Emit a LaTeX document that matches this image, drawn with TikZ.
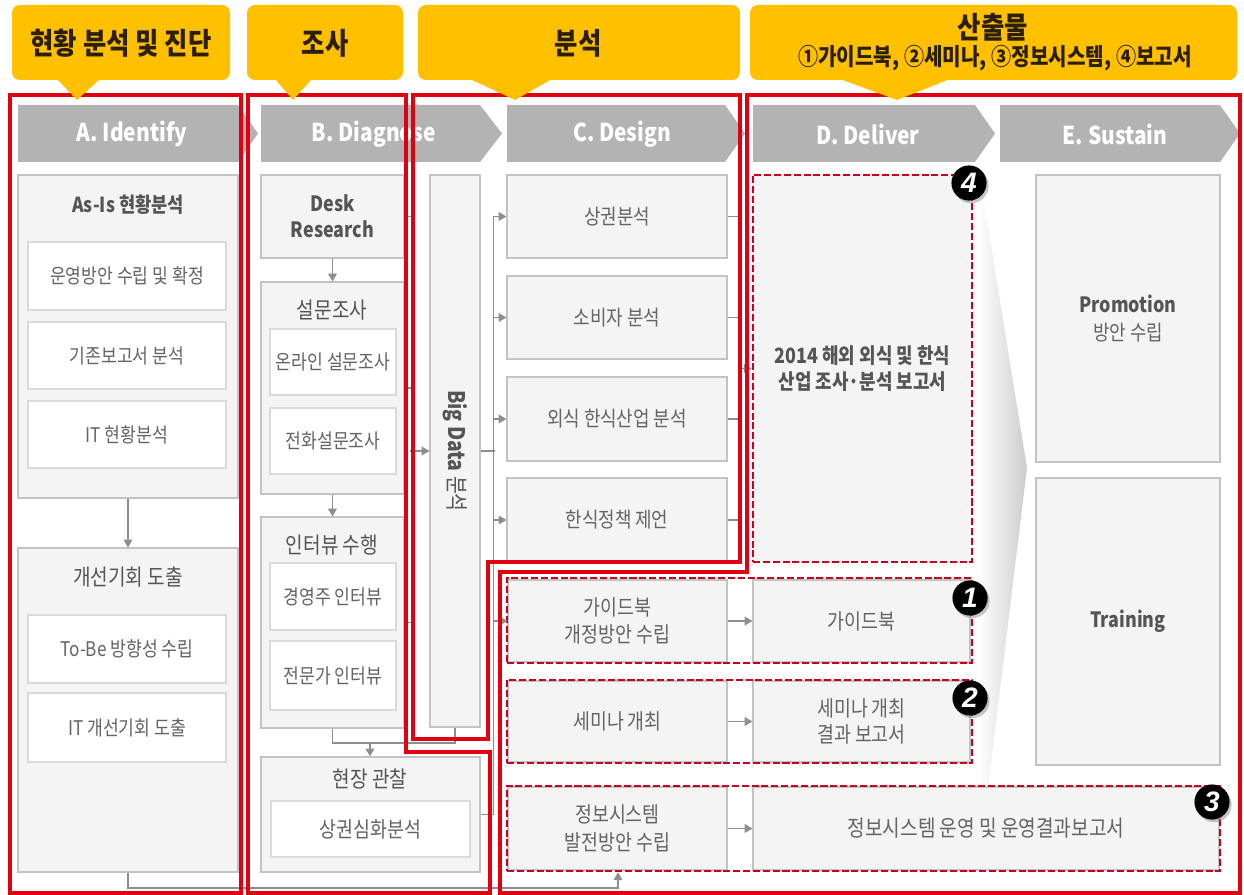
\documentclass[tikz,border=0pt]{standalone}
\usepackage{fontspec}
\setmainfont{Noto Sans CJK KR}[FakeStretch=0.85]
\newfontfamily\badgefont{Liberation Sans}
\usetikzlibrary{arrows.meta,fit,shadows,calc}
\definecolor{hdr}{HTML}{FFC000}
\definecolor{hdrtxt}{HTML}{2B1F05}
\definecolor{chev}{HTML}{B3B3B3}
\definecolor{boxfill}{HTML}{F4F4F4}
\definecolor{boxline}{HTML}{C3C3C3}
\definecolor{wline}{HTML}{DADADA}
\definecolor{txtc}{HTML}{646464}
\definecolor{ttlc}{HTML}{555555}
\definecolor{connc}{HTML}{8E8E8E}
\definecolor{redc}{HTML}{E1000F}
\definecolor{dredc}{HTML}{C8001E}
\begin{document}
\begin{tikzpicture}[x=0.02cm,y=-0.02cm,
  callout/.style={fill=hdr, rounded corners=4.5pt, inner sep=0pt},
  hdrfont/.style={font=\fontsize{17}{19}\selectfont\bfseries, text=hdrtxt},
  chevtxt/.style={text=white, font=\fontsize{14}{16}\selectfont\bfseries},
  gbox/.style={draw=boxline, fill=boxfill, line width=0.6pt, inner sep=0pt},
  wbox/.style={gbox, draw=wline, fill=white},
  tx/.style={text=txtc, align=center, font=\fontsize{12}{15.5}\selectfont},
  wtx/.style={tx, font=\fontsize{11.5}{14}\selectfont},
  ttl/.style={text=ttlc, font=\fontsize{12.8}{15}\selectfont, align=center},
  bttl/.style={text=ttlc, align=center, font=\fontsize{11.8}{15}\selectfont\bfseries},
  line/.style={draw=connc, line width=0.7pt},
  arr/.style={line, -{Triangle[length=4.5pt,width=5pt]}},
  redframe/.style={draw=redc, line width=1.9pt},
  dframe/.style={draw=dredc, line width=1.4pt, dash pattern=on 4pt off 1.6pt, inner sep=0pt},
  badge/.style={circle, fill=black, minimum size=20pt, inner sep=0pt, text=white, font=\badgefont\bfseries\itshape\fontsize{16}{16}\selectfont, drop shadow={shadow xshift=1.2pt, shadow yshift=-1.5pt, opacity=0.45}},
]
\useasboundingbox[fill=white] (0,0) rectangle (1244,895);

% ---------- chevrons ----------
\fill[chev] (18,105) -- (238,105) -- (258,133.5) -- (238,162) -- (18,162) -- cycle;
\fill[chev] (261,105) -- (480,105) -- (502,133.5) -- (480,162) -- (261,162) -- cycle;
\fill[chev] (507,105) -- (725,105) -- (745,133.5) -- (725,162) -- (507,162) -- cycle;
\fill[chev] (753,105) -- (975,105) -- (995,133.5) -- (975,162) -- (753,162) -- cycle;
\fill[chev] (1000,105) -- (1220,105) -- (1240,133.5) -- (1220,162) -- (1000,162) -- cycle;
\node[chevtxt] (chA) at (132,134) {A. Identify};
\node[chevtxt] (chB) at (374,134) {B. Diagnose};
\node[chevtxt] (chC) at (622,134) {C. Design};
\node[chevtxt] (chD) at (868,134) {D. Deliver};
\node[chevtxt] (chE) at (1115,134) {E. Sustain};

% ---------- E shading arrow ----------
\shade[left color=white, right color=gray!40] (978,165) -- (1027,468) -- (978,870) -- cycle;

% ---------- column A ----------
\node[gbox, fit={(18,175)(238,498)}] (asis) {};
\node[bttl] (asisT) at (128,205) {As-Is 현황분석};
\node[wbox, fit={(28,242)(226,310)}, label={[wtx]center:{운영방안 수립 및 확정}}] (a1) {};
\node[wbox, fit={(28,322)(226,389)}, label={[wtx]center:{기존보고서 분석}}] (a2) {};
\node[wbox, fit={(28,401)(226,468)}, label={[wtx]center:{IT 현황분석}}] (a3) {};
\node[gbox, fit={(18,548)(238,872)}] (gae) {};
\node[ttl] (gaeT) at (128,577) {개선기회 도출};
\node[wbox, fit={(28,615)(226,683)}, label={[wtx]center:{To-Be 방향성 수립}}] (a4) {};
\node[wbox, fit={(28,693)(226,762)}, label={[wtx]center:{IT 개선기회 도출}}] (a5) {};

% ---------- column B ----------
\node[gbox, fit={(261,175)(404,258)}, label={[bttl, font=\fontsize{12}{15}\selectfont\bfseries]center:{Desk\\Research}}] (desk) {};
\node[gbox, fit={(261,282)(404,494)}] (survey) {};
\node[ttl] (surveyT) at (332,310) {설문조사};
\node[wbox, fit={(270,329)(396,395)}, label={[wtx]center:{온라인 설문조사}}] (b1) {};
\node[wbox, fit={(270,408)(396,474)}, label={[wtx]center:{전화설문조사}}] (b2) {};
\node[gbox, fit={(261,517)(404,728)}] (intv) {};
\node[ttl] (intvT) at (332,545) {인터뷰 수행};
\node[wbox, fit={(270,563)(396,630)}, label={[wtx]center:{경영주 인터뷰}}] (b3) {};
\node[wbox, fit={(270,641)(396,710)}, label={[wtx]center:{전문가 인터뷰}}] (b4) {};
\node[gbox, fit={(261,757)(480,872)}] (field) {};
\node[ttl] (fieldT) at (370,779) {현장 관찰};
\node[wbox, fit={(271,801)(470,857)}, label={[wtx, font=\fontsize{12.3}{15}\selectfont]center:{상권심화분석}}] (b5) {};
\node[gbox, fit={(430,175)(480,727)}] (bigdata) {};
\node[ttl, rotate=-90, font=\fontsize{13}{15}\selectfont] (bdT) at (bigdata.center) {\textbf{Big Data} 분석};

% ---------- column C ----------
\node[gbox, fit={(507,175)(727,258)}, label={[tx]center:{상권분석}}] (c1) {};
\node[gbox, fit={(507,276)(727,359)}, label={[tx]center:{소비자 분석}}] (c2) {};
\node[gbox, fit={(507,377)(727,461)}, label={[tx]center:{외식 한식산업 분석}}] (c3) {};
\node[gbox, fit={(507,478)(727,562)}, label={[tx]center:{한식정책 제언}}] (c4) {};

% ---------- column D rows ----------
\node[gbox, dframe, fit={(753,175)(972,562)}, label={[bttl, font=\fontsize{12}{15}\selectfont\bfseries]center:{2014 해외 외식 및 한식\\산업 조사·분석 보고서}}] (rep) {};
\node[gbox, fit={(508,580)(727,662)}, label={[tx, font=\fontsize{12.3}{15.5}\selectfont]center:{가이드북\\개정방안 수립}}] (r1a) {};
\node[gbox, fit={(753,580)(970,662)}, label={[tx, font=\fontsize{12.3}{15.5}\selectfont]center:{가이드북}}] (r1b) {};
\node[gbox, fit={(508,681)(727,762)}, label={[tx, font=\fontsize{12.3}{15.5}\selectfont]center:{세미나 개최}}] (r2a) {};
\node[gbox, fit={(753,681)(970,762)}, label={[tx, font=\fontsize{12.3}{15}\selectfont]center:{세미나 개최\\결과 보고서}}] (r2b) {};
\node[gbox, fit={(508,787)(727,870)}, label={[tx, font=\fontsize{12.3}{15.5}\selectfont]center:{정보시스템\\발전방안 수립}}] (r3a) {};
\node[gbox, fit={(753,787)(1219,870)}, label={[tx, font=\fontsize{12.8}{15.5}\selectfont]center:{정보시스템 운영 및 운영결과보고서}}] (r3b) {};
\node[dframe, fit={(507,578)(972,663)}] (f1) {};
\node[dframe, fit={(507,680)(972,763)}] (f2) {};
\node[dframe, fit={(507,786)(1220,871)}] (f3) {};

% ---------- column E ----------
\node[gbox, fit={(1036,175)(1220,462)}, label={[tx]center:{\textbf{\color{ttlc}Promotion}\\방안 수립}}] (promo) {};
\node[gbox, fit={(1036,478)(1220,765)}, label={[bttl, font=\fontsize{12}{15}\selectfont\bfseries]center:{Training}}] (train) {};

% ---------- connectors ----------
\draw[arr] (asis.south) -- (gae.north);
\coordinate (abot) at (618,888);
\draw[arr] (gae.south) |- (abot) -- (abot |- f3.south);

\draw[arr] (desk.south) -- (survey.north);
\draw[arr] (survey.south) -- (intv.north);
\coordinate (j1) at (370,743);
\draw[line] (intv.south) |- (bigdata.south |- j1) -- (bigdata.south);
\draw[arr] (j1) -- (j1 |- field.north);

\draw[line] (desk.east) -- ++(7,0) |- (intv.east);
\draw[line] (survey.east) -- ++(7,0);
\draw[arr] ($(bigdata.west)+(-19,0)$) -- (bigdata.west);

\draw[line] (bigdata.east) -- ++(14,0);
\draw[line] ($(c1.west)+(-13,0)$) |- (field.east);
\foreach \n in {c1,c2,c3,c4,r1a}
  \draw[arr] ($(\n.west)+(-13,0)$) -- (\n.west);

\foreach \n in {c1,c2,c3,c4}
  \draw[line] (\n.east) -- ++(14,0);
\draw[line] ($(c1.east)+(14,0)$) -- ($(c4.east)+(14,0)$);
\draw[arr] ($(rep.west)+(-12,0)$) -- (rep.west);

\draw[arr] (r1a.east) -- (r1b.west);
\draw[arr] (r2a.east) -- (r2b.west);
\draw[arr] (r3a.east) -- (r3b.west);

% ---------- red frames ----------
\draw[redframe] (10,95) rectangle (241,893);
\draw[redframe] (248,95) -- (406,95) -- (406,752) -- (490,752) -- (490,893) -- (248,893) -- cycle;
\draw[redframe] (413,95) -- (740,95) -- (740,562) -- (488,562) -- (488,739) -- (413,739) -- cycle;
\draw[redframe] (747,95) -- (1240,95) -- (1240,893) -- (500,893) -- (500,572) -- (747,572) -- cycle;

% ---------- callouts ----------
\node[callout, fit={(12,5)(230,80)}] (h1) {};
\fill[hdr] (57,79) -- (77,100) -- (100,79) -- cycle;
\node[hdrfont] (h1T) at (121,43) {현황 분석 및 진단};
\node[callout, fit={(247,5)(403,80)}] (h2) {};
\fill[hdr] (275,79) -- (293,100) -- (312,79) -- cycle;
\node[hdrfont] (h2T) at (325,43) {조사};
\node[callout, fit={(418,5)(740,80)}] (h3) {};
\fill[hdr] (470,79) -- (515,100) -- (552,79) -- cycle;
\node[hdrfont] (h3T) at (578,43) {분석};
\node[callout, fit={(750,5)(1237,80)}] (h4) {};
\fill[hdr] (840,79) -- (897,100) -- (950,79) -- cycle;
\node[hdrfont] (h4T) at (993,27) {산출물};
\node[text=hdrtxt, font=\fontsize{13.5}{15}\selectfont\bfseries] (h4S) at (995,58) {①가이드북, ②세미나, ③정보시스템, ④보고서};

% ---------- badges ----------
\node[badge] (n4) at (969,183) {4};
\node[badge] (n1) at (970,598) {1};
\node[badge] (n2) at (970,698) {2};
\node[badge] (n3) at (1212,802) {3};
\end{tikzpicture}
\end{document}
